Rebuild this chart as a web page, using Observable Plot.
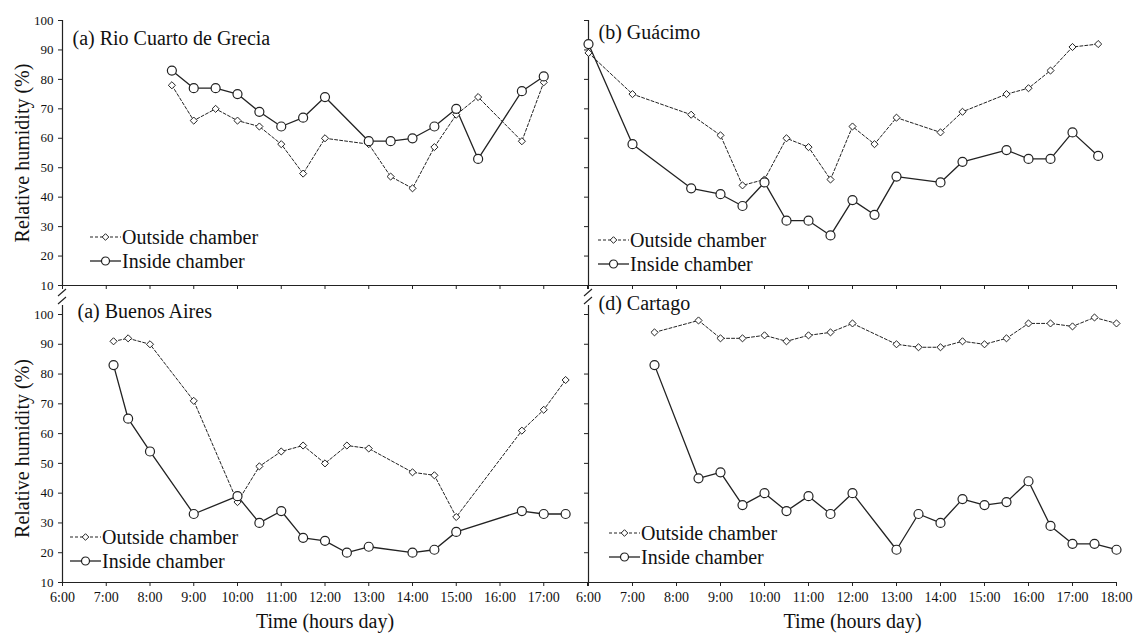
<!DOCTYPE html>
<html><head><meta charset="utf-8">
<script src="https://cdn.jsdelivr.net/npm/d3@7"></script>
<script src="https://cdn.jsdelivr.net/npm/@observablehq/plot@0.6"></script>
<style>
body{margin:0;background:#fff;}
#fig{position:relative;width:1133px;height:633px;font-family:"Liberation Serif","Times New Roman",serif;color:#111;}
#fig > svg{position:absolute;overflow:visible;background:transparent;}
#fig svg, #fig svg text, #fig svg g{font-family:"Liberation Serif","Times New Roman",serif !important;}
#fig g[aria-label="y-axis label"] text,#fig g[aria-label="x-axis label"] text{font-size:20px;}
.leg{position:absolute;font-size:20px;white-space:nowrap;font-family:"Liberation Serif","Times New Roman",serif;}
.leg .row{display:flex;align-items:center;height:24px;}
.leg svg{display:block;}
</style></head><body><div id="fig"></div><script>
// ---- data ----
const rioTimes = ["8:30","9:00","9:30","10:00","10:30","11:00","11:30","12:00","13:00","13:30","14:00","14:30","15:00","15:30","16:30","17:00"];
const rioOutside = [78,66,70,66,64,58,48,60,58,47,43,57,68,74,59,79];
const rioInside  = [83,77,77,75,69,64,67,74,59,59,60,64,70,53,76,81];

const guaTimes = ["6:00","7:00","8:20","9:00","9:30","10:00","10:30","11:00","11:30","12:00","12:30","13:00","14:00","14:30","15:30","16:00","16:30","17:00","17:35"];
const guaOutside = [89,75,68,61,44,46,60,57,46,64,58,67,62,69,75,77,83,91,92];
const guaInside  = [92,58,43,41,37,45,32,32,27,39,34,47,45,52,56,53,53,62,54];

const baTimes = ["7:10","7:30","8:00","9:00","10:00","10:30","11:00","11:30","12:00","12:30","13:00","14:00","14:30","15:00","16:30","17:00","17:30"];
const baOutside = [91,92,90,71,37,49,54,56,50,56,55,47,46,32,61,68,78];
const baInside  = [83,65,54,33,39,30,34,25,24,20,22,20,21,27,34,33,33];

const carTimes = ["7:30","8:30","9:00","9:30","10:00","10:30","11:00","11:30","12:00","13:00","13:30","14:00","14:30","15:00","15:30","16:00","16:30","17:00","17:30","18:00"];
const carOutside = [94,98,92,92,93,91,93,94,97,90,89,89,91,90,92,97,97,96,99,97];
const carInside  = [83,45,47,36,40,34,39,33,40,21,33,30,38,36,37,44,29,23,23,21];

const hourTicks = [6,7,8,9,10,11,12,13,14,15,16,17,18];
const yTicks = [10,20,30,40,50,60,70,80,90,100];
const seriesNames = ["Outside chamber","Inside chamber"];
const yTitle = "Relative humidity (%)";
const xTitle = "Time (hours day)";

// ---- helpers ----
const SERIF = '"Liberation Serif","Times New Roman",serif';
const toHours = t => { const [h,m] = t.split(":").map(Number); return h + m/60; };
const rows = (times, vals) => times.map((t,i) => ({h: toHours(t), v: vals[i]}));
const fig = document.getElementById("fig");

function panel(o) {
  const out = rows(o.times, o.outside), ins = rows(o.times, o.inside);
  const chart = Plot.plot({
    width: o.width, height: o.height,
    marginLeft: o.mL, marginRight: o.mR, marginTop: o.mT, marginBottom: o.mB,
    style: {fontFamily: SERIF, background: "transparent", overflow: "visible"},
    x: {domain: [6, 18]},
    y: {domain: [10, 100]},
    marks: [
      Plot.ruleX([6], {y1: 10, y2: o.yTop, stroke: "#222", strokeWidth: 1.2}),
      Plot.ruleY([10], {x1: 6, x2: 18, stroke: "#222", strokeWidth: 1.2}),
      Plot.axisY({ticks: yTicks, tickSize: 4, tickPadding: 5, fontSize: 13, fontFamily: SERIF, stroke: "#222",
        tickFormat: o.yLabels ? d => d : () => "",
        label: o.yLabels ? yTitle : null, labelAnchor: "center", labelArrow: "none", labelOffset: 48}),
      Plot.axisX({ticks: hourTicks, tickSize: 4, tickPadding: 6, fontSize: 14, fontFamily: SERIF, stroke: "#222",
        tickFormat: o.xLabels ? (d => (d <= o.maxLabel ? d + ":00" : "")) : () => "",
        label: o.xLabels ? xTitle : null, labelAnchor: "center", labelArrow: "none", labelOffset: 45}),
      Plot.line(out, {x: "h", y: "v", stroke: "#222", strokeWidth: 1, strokeDasharray: "3,2"}),
      Plot.line(ins, {x: "h", y: "v", stroke: "#222", strokeWidth: 1.3}),
      Plot.dot(out, {x: "h", y: "v", symbol: "diamond2", r: 3.2, fill: "white", stroke: "#222", strokeWidth: 1}),
      Plot.dot(ins, {x: "h", y: "v", symbol: "circle", r: 4.5, fill: "white", stroke: "#222", strokeWidth: 1.2}),
      Plot.text([o.title], {frameAnchor: "top-left", dx: o.tdx, dy: o.tdy, textAnchor: "start", lineAnchor: "middle", fontSize: 20, fontFamily: SERIF, fill: "#111"})
    ]
  });
  chart.style.left = o.left + "px";
  chart.style.top = o.top + "px";
  fig.appendChild(chart);

  // legend
  const leg = document.createElement("div");
  leg.className = "leg";
  leg.style.left = o.legX + "px";
  leg.style.top = o.legY + "px";
  leg.innerHTML =
    `<div class="row"><svg width="33" height="12"><line x1="1" y1="6" x2="32" y2="6" stroke="#222" stroke-dasharray="3,2"/><path d="M16.5,2.7L19.8,6L16.5,9.3L13.2,6Z" fill="white" stroke="#222"/></svg><span>${seriesNames[0]}</span></div>` +
    `<div class="row"><svg width="33" height="12"><line x1="1" y1="6" x2="32" y2="6" stroke="#222" stroke-width="1.3"/><circle cx="16.5" cy="6" r="4" fill="white" stroke="#222" stroke-width="1.2"/></svg><span>${seriesNames[1]}</span></div>`;
  fig.appendChild(leg);
}

panel({times: rioTimes, outside: rioOutside, inside: rioInside, title: "(a) Rio Cuarto de Grecia",
  left: 0, top: 0, width: 600, height: 300, mL: 62, mR: 13, mT: 20, mB: 15, yTop: 100,
  yLabels: true, xLabels: false, tdx: 10, tdy: 18, legX: 89, legY: 225});
panel({times: guaTimes, outside: guaOutside, inside: guaInside, title: "(b) Guácimo",
  left: 560, top: 0, width: 573, height: 300, mL: 28, mR: 17, mT: 20, mB: 15, yTop: 100,
  yLabels: false, xLabels: false, tdx: 10, tdy: 12, legX: 597, legY: 228});
panel({times: baTimes, outside: baOutside, inside: baInside, title: "(a) Buenos Aires",
  left: 0, top: 290, width: 600, height: 343, mL: 62, mR: 13, mT: 24, mB: 51, yTop: 103,
  yLabels: true, xLabels: true, maxLabel: 17, tdx: 15, tdy: -3, legX: 69, legY: 525});
panel({times: carTimes, outside: carOutside, inside: carInside, title: "(d) Cartago",
  left: 560, top: 290, width: 573, height: 343, mL: 28, mR: 17, mT: 24, mB: 51, yTop: 103,
  yLabels: false, xLabels: true, maxLabel: 18, tdx: 10, tdy: -11, legX: 608, legY: 521});

// axis break marks
const br = d3.select(fig).append("svg").attr("width", 1133).attr("height", 633)
  .style("left", "0px").style("top", "0px").style("pointer-events", "none");
[62, 588].forEach(x => {
  br.append("path").attr("d", `M${x-4},${296}L${x+4},${289}M${x-4},${304}L${x+4},${297}`)
    .attr("stroke", "#222").attr("stroke-width", 1.1).attr("fill", "none");
});
</script></body></html>
